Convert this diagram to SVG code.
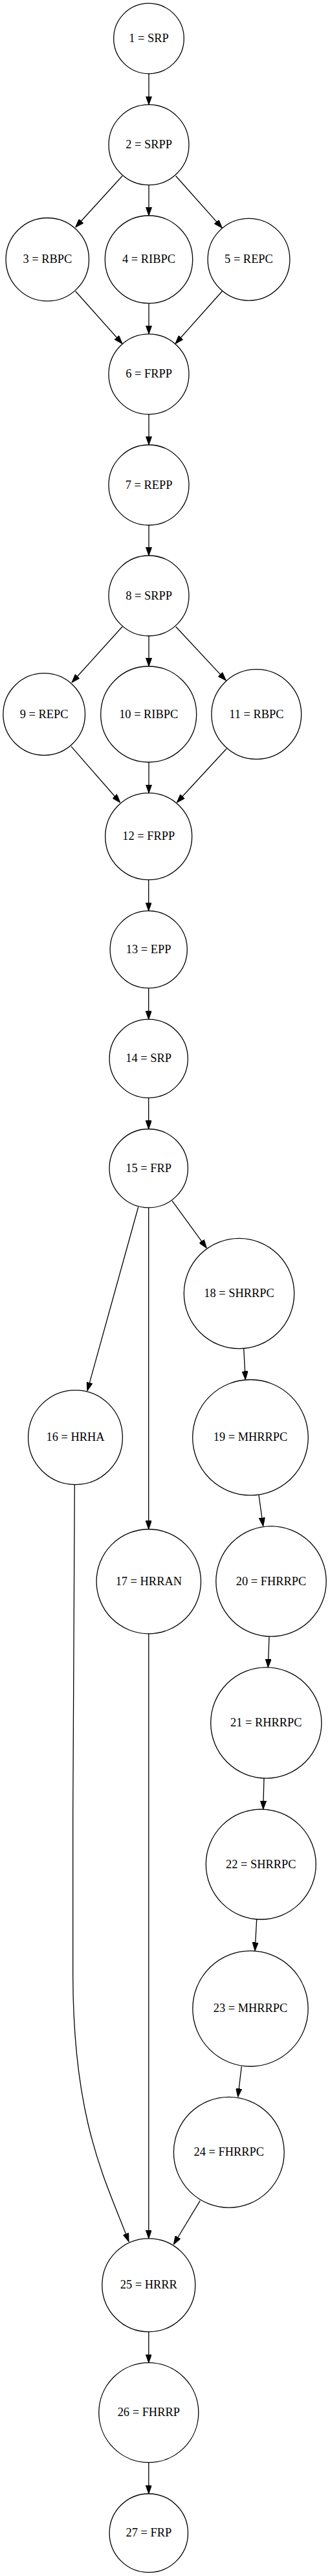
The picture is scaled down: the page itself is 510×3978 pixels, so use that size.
<svg xmlns="http://www.w3.org/2000/svg" width="510" height="3978" viewBox="0 0 510 3978">
<style>
.n circle{fill:none;stroke:#000;stroke-width:1.3}
.n text{font-family:"Liberation Serif","Times New Roman",serif;font-size:18.4px;text-anchor:middle;fill:#000}
.e path{fill:none;stroke:#000;stroke-width:1.3;marker-end:url(#ah)}
</style>
<defs>
<marker id="ah" markerUnits="userSpaceOnUse" viewBox="0 0 13.1 9.2" markerWidth="13.1" markerHeight="9.2" refX="13.1" refY="4.6" orient="auto">
<path d="M0,0 L13.1,4.6 L0,9.2 z" fill="#000" stroke="#000" stroke-width="1"/>
</marker>
</defs>
<rect x="0" y="0" width="510" height="3978" fill="#fff"/>
<g id="edges" class="e">
<path d="M230,113.8 L230,161.7"/>
<path d="M189,271.7 L116.7,351"/>
<path d="M230,285.7 L230,333"/>
<path d="M271.7,271.7 L343.3,352.1"/>
<path d="M116.7,449.7 L189,530.8"/>
<path d="M230,468.4 L230,515.8"/>
<path d="M343.3,449.7 L271,530.8"/>
<path d="M230,639.8 L230,687"/>
<path d="M230,811 L230,858"/>
<path d="M189,967.8 L111,1054"/>
<path d="M230,982 L230,1029"/>
<path d="M271.7,967.8 L349.3,1050.9"/>
<path d="M110,1152.6 L185.7,1239.3"/>
<path d="M230,1177 L230,1224.7"/>
<path d="M350,1156.2 L273.3,1239.3"/>
<path d="M229.7,1358.7 L229.7,1406.7"/>
<path d="M229.7,1525.9 L229.7,1574.2"/>
<path d="M229.7,1695.4 L229.7,1743.5"/>
<path d="M266,1854.3 L319.3,1927.3"/>
<path d="M213.7,1864 L135,2147.7"/>
<path d="M229.7,1864.9 L229.7,2361.5"/>
<path d="M376.7,2082.7 L379.3,2130.5"/>
<path d="M400,2309 L406.7,2356.8"/>
<path d="M416,2527.2 L414.3,2574.9"/>
<path d="M408,2746 L406.7,2794"/>
<path d="M396.7,2964 L394,3012.6"/>
<path d="M373.3,3191 L367.7,3238.3"/>
<path d="M115.3,2292.7 C114.5,2500 112.7,2650 112.7,2800 L112.7,3050 C113,3280 165,3370 199,3461.7"/>
<path d="M229.8,2522.9 L229.8,3456.8"/>
<path d="M309.3,3398.3 L268.3,3466"/>
<path d="M229.8,3600.8 L229.8,3648.7"/>
<path d="M229.8,3802.7 L229.8,3851"/>
</g>
<g id="node1" class="n"><circle cx="230" cy="59.5" r="54.3"/><text x="230" y="65">1 = SRP</text></g>
<g id="node2" class="n"><circle cx="230" cy="223.7" r="62"/><text x="230" y="229.2">2 = SRPP</text></g>
<g id="node3" class="n"><circle cx="73.3" cy="400.7" r="64.2"/><text x="73.3" y="406.2">3 = RBPC</text></g>
<g id="node4" class="n"><circle cx="230" cy="400.7" r="67.7"/><text x="230" y="406.2">4 = RIBPC</text></g>
<g id="node5" class="n"><circle cx="384.5" cy="400.7" r="63.4"/><text x="384.5" y="406.2">5 = REPC</text></g>
<g id="node6" class="n"><circle cx="230" cy="577.8" r="62"/><text x="230" y="583.3">6 = FRPP</text></g>
<g id="node7" class="n"><circle cx="230" cy="749" r="62"/><text x="230" y="754.5">7 = REPP</text></g>
<g id="node8" class="n"><circle cx="230" cy="920" r="62"/><text x="230" y="925.5">8 = SRPP</text></g>
<g id="node9" class="n"><circle cx="68.2" cy="1103" r="63.3"/><text x="68.2" y="1108.5">9 = REPC</text></g>
<g id="node10" class="n"><circle cx="229.7" cy="1103" r="74"/><text x="229.7" y="1108.5">10 = RIBPC</text></g>
<g id="node11" class="n"><circle cx="396.3" cy="1103" r="69.4"/><text x="396.3" y="1108.5">11 = RBPC</text></g>
<g id="node12" class="n"><circle cx="229.7" cy="1291.7" r="67"/><text x="229.7" y="1297.2">12 = FRPP</text></g>
<g id="node13" class="n"><circle cx="229.7" cy="1466.3" r="59.6"/><text x="229.7" y="1471.8">13 = EPP</text></g>
<g id="node14" class="n"><circle cx="229.7" cy="1634.8" r="60.6"/><text x="229.7" y="1640.3">14 = SRP</text></g>
<g id="node15" class="n"><circle cx="229.7" cy="1804.2" r="60.7"/><text x="229.7" y="1809.7">15 = FRP</text></g>
<g id="node16" class="n"><circle cx="116.5" cy="2219.7" r="72.9"/><text x="116.5" y="2225.2">16 = HRHA</text></g>
<g id="node17" class="n"><circle cx="229.8" cy="2442.2" r="80.7"/><text x="229.8" y="2447.7">17 = HRRAN</text></g>
<g id="node18" class="n"><circle cx="369.5" cy="1997.5" r="85.2"/><text x="369.5" y="2003">18 = SHRRPC</text></g>
<g id="node19" class="n"><circle cx="387" cy="2219.8" r="89.3"/><text x="387" y="2225.3">19 = MHRRPC</text></g>
<g id="node20" class="n"><circle cx="419" cy="2442" r="85.2"/><text x="419" y="2447.5">20 = FHRRPC</text></g>
<g id="node21" class="n"><circle cx="411.3" cy="2660.5" r="85.6"/><text x="411.3" y="2666">21 = RHRRPC</text></g>
<g id="node22" class="n"><circle cx="403.3" cy="2879" r="85"/><text x="403.3" y="2884.5">22 = SHRRPC</text></g>
<g id="node23" class="n"><circle cx="387" cy="3101.8" r="89.2"/><text x="387" y="3107.3">23 = MHRRPC</text></g>
<g id="node24" class="n"><circle cx="353.8" cy="3323.7" r="85.4"/><text x="353.8" y="3329.2">24 = FHRRPC</text></g>
<g id="node25" class="n"><circle cx="229.8" cy="3528.8" r="72"/><text x="229.8" y="3534.3">25 = HRRR</text></g>
<g id="node26" class="n"><circle cx="229.8" cy="3725.7" r="77"/><text x="229.8" y="3731.2">26 = FHRRP</text></g>
<g id="node27" class="n"><circle cx="229.8" cy="3911.7" r="60.7"/><text x="229.8" y="3917.2">27 = FRP</text></g>
</svg>
